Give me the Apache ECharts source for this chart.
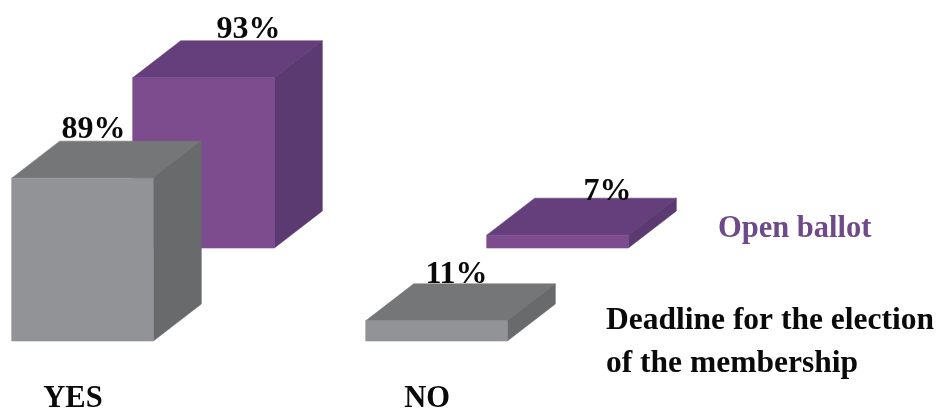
<!DOCTYPE html>
<html>
<head>
<meta charset="utf-8">
<style>
html,body{margin:0;padding:0;background:#fff}
#c{width:937px;height:409px;filter:blur(0.45px)}
</style>
<script src="https://cdn.jsdelivr.net/npm/echarts@6/dist/echarts.min.js"></script>
</head>
<body>
<div id="c"></div>
<script>
const categories = ['YES', 'NO'];
const membershipValues = [89, 11];
const openBallotValues = [93, 7];
const membershipName = 'Deadline for the election\nof the membership';
const openBallotName = 'Open ballot';

const FONT = '"Liberation Serif", serif';
const DEPTH_X = 48, DEPTH_Y = 37;

function cuboid(palette, shiftX, shiftY, labelDx, labelDy) {
  return function (params, api) {
    const i = api.value(0), v = api.value(1);
    const base = api.coord([i, 0]);
    const top = api.coord([i, v]);
    const w = api.size([1, 0])[0] * 0.4;
    const x0 = base[0] - w / 2 + shiftX, x1 = x0 + w;
    const yb = base[1] + shiftY, yt = top[1] + shiftY;
    const poly = (pts, fill) => ({
      type: 'polygon',
      shape: { points: pts },
      style: { fill: fill, stroke: fill, lineWidth: 0.6 }
    });
    return {
      type: 'group',
      children: [
        poly([[x0, yt], [x0 + DEPTH_X, yt - DEPTH_Y], [x1 + DEPTH_X, yt - DEPTH_Y], [x1, yt]], palette.top),
        poly([[x1, yt], [x1 + DEPTH_X, yt - DEPTH_Y], [x1 + DEPTH_X, yb - DEPTH_Y], [x1, yb]], palette.side),
        poly([[x0, yt], [x1, yt], [x1, yb], [x0, yb]], palette.front),
        {
          type: 'text',
          z2: 10,
          style: {
            x: (x0 + x1) / 2 + labelDx[i],
            y: yt - DEPTH_Y + labelDy[i],
            text: v + '%',
            fill: '#0a0a0a',
            font: 'bold 32px ' + FONT,
            align: 'center',
            verticalAlign: 'bottom'
          }
        }
      ]
    };
  };
}

const series = [
  {
    name: openBallotName,
    type: 'custom',
    clip: false,
    z: 1,
    renderItem: cuboid({ front: '#7c4c8f', top: '#653f7c', side: '#5a3a70' }, 121, -93, [45, 50], [5, 10]),
    data: openBallotValues.map((v, i) => [i, v])
  },
  {
    name: membershipName,
    type: 'custom',
    clip: false,
    z: 2,
    renderItem: cuboid({ front: '#929396', top: '#757677', side: '#696a6c' }, 0, 0, [11, 20], [5, 7])  ,
    data: membershipValues.map((v, i) => [i, v])
  }
];

const chart = echarts.init(document.getElementById('c'), null, { renderer: 'canvas' });
chart.setOption({
  animation: false,
  backgroundColor: '#ffffff',
  grid: { left: -94.5, width: 708, top: 158, height: 183, outerBoundsMode: 'none' },
  xAxis: {
    type: 'category',
    data: categories,
    axisLine: { show: false },
    axisTick: { show: false },
    axisLabel: {
      margin: 43,
      color: '#0a0a0a',
      fontFamily: FONT,
      fontWeight: 'bold',
      fontSize: 30.5,
      padding: [0, 19, 0, 0]
    }
  },
  yAxis: { type: 'value', min: 0, max: 100, show: false },
  series: series,
  graphic: [
    {
      type: 'text', left: 718, top: 214,
      style: { text: openBallotName, fill: '#6f4a8a', font: 'bold 30.5px ' + FONT }
    },
    {
      type: 'text', left: 606, top: 299,
      style: { text: membershipName, fill: '#0a0a0a', font: 'bold 31.5px ' + FONT, lineHeight: 43 }
    }
  ]
});
</script>
</body>
</html>
